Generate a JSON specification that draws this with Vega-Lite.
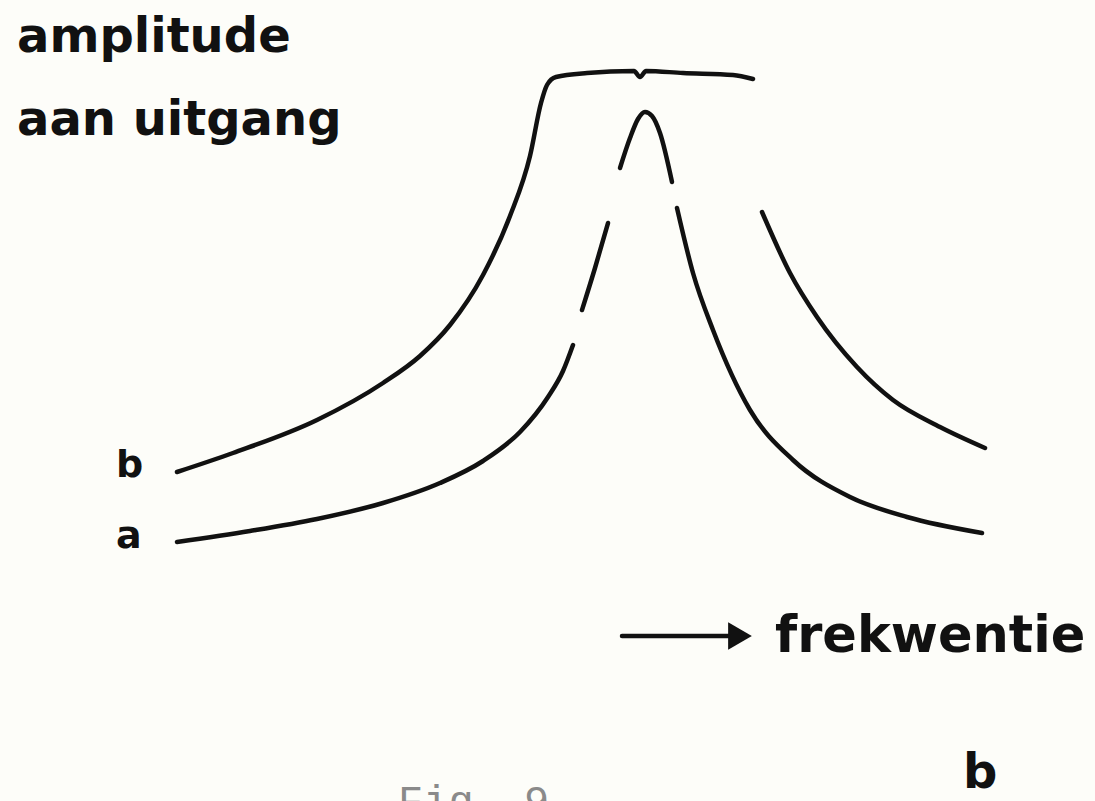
{
  "$schema": "https://vega.github.io/schema/vega-lite/v6.json",
  "width": 1095,
  "height": 801,
  "autosize": "none",
  "padding": 0,
  "background": "#fdfdf9",
  "config": {"view": {"stroke": null}},
  "datasets": {
    "curves": [
      {"part": "b1", "f": 177, "amp": 329},
      {"part": "b1", "f": 233, "amp": 348},
      {"part": "b1", "f": 317, "amp": 381},
      {"part": "b1", "f": 383, "amp": 418},
      {"part": "b1", "f": 420, "amp": 445},
      {"part": "b1", "f": 450, "amp": 476},
      {"part": "b1", "f": 483, "amp": 526},
      {"part": "b1", "f": 510, "amp": 585},
      {"part": "b1", "f": 530, "amp": 645},
      {"part": "b1", "f": 541, "amp": 698},
      {"part": "b1", "f": 547, "amp": 716},
      {"part": "b1", "f": 556, "amp": 724},
      {"part": "b1", "f": 587, "amp": 728},
      {"part": "b1", "f": 634, "amp": 730},
      {"part": "b1", "f": 640, "amp": 724},
      {"part": "b1", "f": 646, "amp": 730},
      {"part": "b1", "f": 683, "amp": 728},
      {"part": "b1", "f": 733, "amp": 726},
      {"part": "b1", "f": 753, "amp": 722},
      {"part": "b2", "f": 762, "amp": 589},
      {"part": "b2", "f": 790, "amp": 528},
      {"part": "b2", "f": 817, "amp": 484},
      {"part": "b2", "f": 857, "amp": 434},
      {"part": "b2", "f": 893, "amp": 401},
      {"part": "b2", "f": 940, "amp": 374},
      {"part": "b2", "f": 985, "amp": 353},
      {"part": "a1", "f": 177, "amp": 259},
      {"part": "a1", "f": 250, "amp": 270},
      {"part": "a1", "f": 317, "amp": 282},
      {"part": "a1", "f": 383, "amp": 298},
      {"part": "a1", "f": 440, "amp": 318},
      {"part": "a1", "f": 483, "amp": 340},
      {"part": "a1", "f": 520, "amp": 369},
      {"part": "a1", "f": 548, "amp": 404},
      {"part": "a1", "f": 563, "amp": 430},
      {"part": "a1", "f": 573, "amp": 456},
      {"part": "a2", "f": 582, "amp": 491},
      {"part": "a2", "f": 595, "amp": 533},
      {"part": "a2", "f": 608, "amp": 578},
      {"part": "a3", "f": 620, "amp": 633},
      {"part": "a3", "f": 630, "amp": 663},
      {"part": "a3", "f": 638, "amp": 682},
      {"part": "a3", "f": 645, "amp": 689},
      {"part": "a3", "f": 652, "amp": 685},
      {"part": "a3", "f": 660, "amp": 668},
      {"part": "a3", "f": 672, "amp": 619},
      {"part": "a4", "f": 677, "amp": 593},
      {"part": "a4", "f": 693, "amp": 528},
      {"part": "a4", "f": 713, "amp": 471},
      {"part": "a4", "f": 750, "amp": 391},
      {"part": "a4", "f": 793, "amp": 341},
      {"part": "a4", "f": 850, "amp": 304},
      {"part": "a4", "f": 907, "amp": 284},
      {"part": "a4", "f": 982, "amp": 268}
    ],
    "titles": [
      {"label": "amplitude", "f": 17, "amp": 749},
      {"label": "aan uitgang", "f": 17, "amp": 666},
      {"label": "b", "f": 963, "amp": 13}
    ],
    "axisName": [
      {"label": "frekwentie", "f": 775, "amp": 149}
    ],
    "curveNames": [
      {"label": "b", "f": 116, "amp": 324},
      {"label": "a", "f": 116, "amp": 253}
    ],
    "caption": [
      {"label": "Fig. 9", "f": 398, "amp": -14}
    ],
    "arrowShaft": [
      {"f": 622, "f2": 732, "amp": 165}
    ],
    "arrowHead": [
      {"f": 740, "amp": 165}
    ]
  },
  "encoding": {
    "x": {"field": "f", "type": "quantitative", "scale": {"domain": [0, 1095], "nice": false, "zero": false}, "axis": null},
    "y": {"field": "amp", "type": "quantitative", "scale": {"domain": [0, 801], "nice": false, "zero": false}, "axis": null}
  },
  "layer": [
    {
      "data": {"name": "curves"},
      "mark": {"type": "line", "color": "#111111", "strokeWidth": 4.5, "interpolate": "monotone", "strokeCap": "round", "strokeJoin": "round"},
      "encoding": {"detail": {"field": "part", "type": "nominal"}}
    },
    {
      "data": {"name": "arrowShaft"},
      "mark": {"type": "rule", "color": "#111111", "strokeWidth": 4.5, "strokeCap": "round"},
      "encoding": {"x2": {"field": "f2"}}
    },
    {
      "data": {"name": "arrowHead"},
      "mark": {"type": "point", "shape": "triangle-right", "filled": true, "color": "#111111", "opacity": 1, "size": 750},
      "encoding": {}
    },
    {
      "data": {"name": "titles"},
      "mark": {"type": "text", "font": "DejaVu Sans", "fontWeight": "bold", "fontSize": 48, "align": "left", "baseline": "alphabetic", "color": "#111111"},
      "encoding": {"text": {"field": "label"}}
    },
    {
      "data": {"name": "axisName"},
      "mark": {"type": "text", "font": "DejaVu Sans", "fontWeight": "bold", "fontSize": 51, "align": "left", "baseline": "alphabetic", "color": "#111111"},
      "encoding": {"text": {"field": "label"}}
    },
    {
      "data": {"name": "curveNames"},
      "mark": {"type": "text", "font": "DejaVu Sans", "fontWeight": "bold", "fontSize": 38, "align": "left", "baseline": "alphabetic", "color": "#111111"},
      "encoding": {"text": {"field": "label"}}
    },
    {
      "data": {"name": "caption"},
      "mark": {"type": "text", "font": "Liberation Mono", "fontSize": 42, "align": "left", "baseline": "alphabetic", "color": "#8a8a8a"},
      "encoding": {"text": {"field": "label"}}
    }
  ]
}
